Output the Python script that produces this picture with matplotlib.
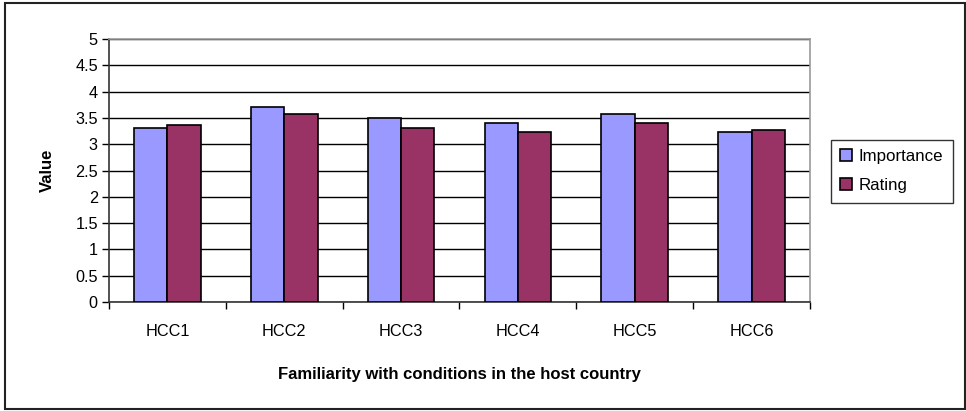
import numpy as np
import matplotlib.pyplot as plt
from matplotlib.patches import Rectangle

plt.rcParams['font.family'] = ['Liberation Sans', 'DejaVu Sans']

categories = ['HCC1', 'HCC2', 'HCC3', 'HCC4', 'HCC5', 'HCC6']
importance = [3.30, 3.71, 3.50, 3.40, 3.57, 3.23]
rating = [3.36, 3.57, 3.30, 3.23, 3.40, 3.27]

fig = plt.figure(figsize=(9.66, 4.11), dpi=100)
ax = fig.add_axes([0.1128, 0.2652, 0.7257, 0.6398])

# outer chart border
fig.patches.append(Rectangle((5 / 966, 2 / 411), 960 / 966, 406 / 411,
                             transform=fig.transFigure, fill=False,
                             edgecolor='#222222', linewidth=1.5))

x = np.arange(len(categories))
w = 1 / 3.5
ax.bar(x - w / 2, importance, w, color='#9999FF', edgecolor='black',
       linewidth=1.2, label='Importance', zorder=3)
ax.bar(x + w / 2, rating, w, color='#993366', edgecolor='black',
       linewidth=1.2, label='Rating', zorder=3)

ax.set_xlim(-0.5, len(categories) - 0.5)
ax.set_ylim(0, 5)
ax.set_yticks(np.arange(0, 5.01, 0.5))
ax.set_yticklabels(['0', '0.5', '1', '1.5', '2', '2.5', '3', '3.5', '4', '4.5', '5'])
ax.set_xticks(x)
ax.set_xticklabels(categories)
ax.set_xticks(np.arange(-0.5, len(categories)), minor=True)
ax.tick_params(axis='x', which='major', length=0, labelsize=11.7, pad=16)
ax.tick_params(axis='x', which='minor', length=5, width=1, direction='out')
ax.tick_params(axis='y', length=5, width=1, direction='out', labelsize=11.7, pad=3)

ax.yaxis.grid(True, color='black', linewidth=1, zorder=0)
ax.set_axisbelow(True)
for side in ['top', 'right']:
    ax.spines[side].set_color('#999999')
    ax.spines[side].set_linewidth(1.2)
for side in ['left', 'bottom']:
    ax.spines[side].set_color('#333333')
    ax.spines[side].set_linewidth(1.2)

ax.set_ylabel('Value', fontsize=12, fontweight='bold', labelpad=15)
ax.set_xlabel('Familiarity with conditions in the host country', fontsize=12,
              fontweight='bold', labelpad=20)

leg = ax.legend(loc='center left', bbox_to_anchor=(1.030, 0.498), fontsize=12.2,
                frameon=True, fancybox=False, edgecolor='black',
                handlelength=0.7, handleheight=0.7, handletextpad=0.4,
                labelspacing=0.85, borderpad=0.55, borderaxespad=0)
leg.get_frame().set_linewidth(1)

fig.savefig('out.png', dpi=100)
